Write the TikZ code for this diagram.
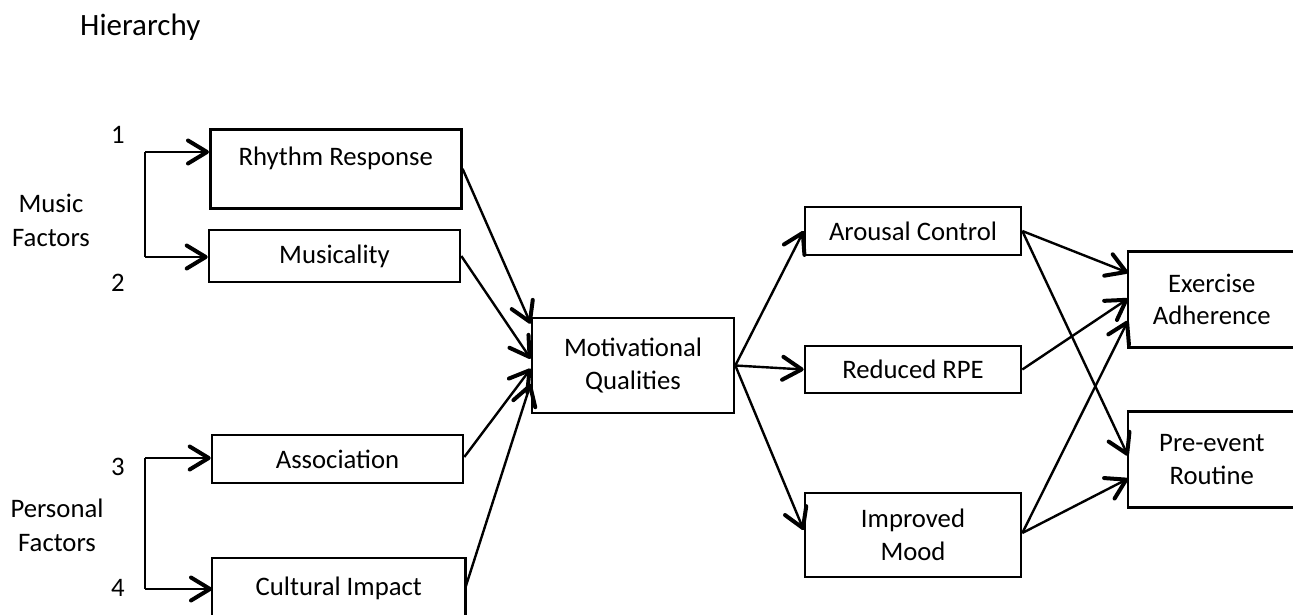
\documentclass[tikz,border=0pt]{standalone}
\usepackage{fontspec}
\setmainfont{Carlito}
\usetikzlibrary{arrows.meta,calc}
\tikzset{
  box/.style={draw=black, line width=2.6pt, inner sep=0pt, align=center, font=\fontsize{26.7}{32.5}\selectfont},
  openbox/.style={box, draw=none},
  edge3/.style={line width=2.6pt, line join=miter},
  lbl/.style={inner sep=0pt, align=center, font=\fontsize{26.7}{34}\selectfont},
  conn/.style={line width=2.4pt, -{Straight Barb[length=19pt, width=23pt, line width=4pt, round]}},
  plain/.style={line width=2.4pt}
}
\begin{document}
\begin{tikzpicture}[x=1pt, y=-1pt]
\useasboundingbox (0,0) rectangle (1293,615);
% title
\node[anchor=base west, inner sep=0pt, font=\fontsize{31}{36}\selectfont] (title) at (80,36) {Hierarchy};
% left labels
\node[lbl] (music) at (51,220) {Music\\Factors};
\node[lbl] (pers) at (57,525) {Personal\\Factors};
\node[lbl] (n1) at (118,135) {1};
\node[lbl] (n2) at (118,283) {2};
\node[lbl] (n3) at (118,467) {3};
\node[lbl] (n4) at (118,588) {4};
% boxes
\node[box, anchor=north west, minimum width=251pt, text height=36pt, text depth=43pt] (rr) at (209,128) {Rhythm Response};
\node[box, minimum width=251pt, minimum height=52pt] (mu) at (334.5,256) {Musicality};
\node[box, minimum width=251pt, minimum height=48pt] (as) at (337.5,459) {Association};
\node[openbox, anchor=north west, minimum width=251pt, text height=36pt, text depth=21pt] (ci) at (212,558) {Cultural Impact};
\draw[edge3] (ci.south west) -- (ci.north west) -- (ci.north east) -- (ci.south east);
\node[box, minimum width=202pt, minimum height=95pt] (mq) at (633,365.5) {Motivational\\Qualities};
\node[box, minimum width=216pt, minimum height=48pt] (ac) at (913,231) {Arousal Control};
\node[box, minimum width=216pt, minimum height=47pt] (rp) at (913,369.5) {Reduced RPE};
\node[box, minimum width=216pt, minimum height=84pt] (im) at (913,535) {Improved\\Mood};
\node[openbox, anchor=west, minimum width=165pt, minimum height=93pt] (ex) at (1128,299.5) {Exercise\\Adherence};
\draw[edge3] (ex.north east) -- (ex.north west) -- (ex.south west) -- (ex.south east);
\node[openbox, anchor=west, minimum width=165pt, minimum height=93pt] (pe) at (1128,459.5) {Pre-event\\Routine};
\draw[edge3] (pe.north east) -- (pe.north west) -- (pe.south west) -- (pe.south east);
% brackets
\coordinate (b1) at (145,152);
\coordinate (b2) at (145,257);
\coordinate (b3) at (145,458);
\coordinate (b4) at (145,589);
\draw[plain] (b1) -- (b2);
\draw[conn] (b1) -- (b1 -| rr.west);
\draw[conn] (b2) -- (b2 -| mu.west);
\draw[plain] (b3) -- (b4);
\draw[conn] (b3) -- (b3 -| as.west);
\draw[conn] (b4) -- (b4 -| ci.west);
% into motivational qualities
\draw[conn] (rr.east) -- ($(mq.north west)+(0,7)$);
\draw[conn] (mu.east) -- ($(mq.north west)+(0,42)$);
\draw[conn] ($(as.east)+(0,-2)$) -- ($(mq.north west)+(0,52)$);
\draw[conn] ($(ci.north east)+(0,29)$) -- ($(mq.north west)+(0,67)$);
% out of motivational qualities
\draw[conn] (mq.east) -- (ac.west);
\draw[conn] (mq.east) -- (rp.west);
\draw[conn] (mq.east) -- ($(im.west)+(0,-5)$);
% outcomes
\draw[conn] (ac.east) -- ($(ex.north west)+(0,21)$);
\draw[conn] (ac.east) -- ($(pe.north west)+(0,44)$);
\draw[conn] (rp.east) -- ($(ex.north west)+(0,47)$);
\draw[conn] ($(im.east)+(0,-2)$) -- ($(ex.north west)+(0,69)$);
\draw[conn] ($(im.east)+(0,-2)$) -- ($(pe.north west)+(0,67)$);
\end{tikzpicture}
\end{document}
